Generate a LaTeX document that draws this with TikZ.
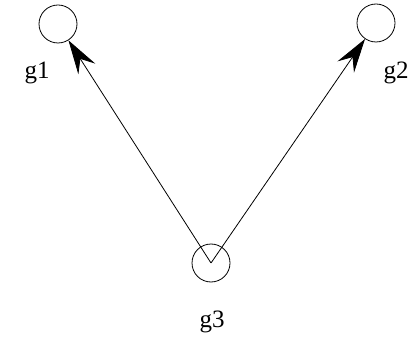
\documentclass[tikz,border=0pt]{standalone}
\usepackage{fontspec}
\setmainfont{Liberation Serif}
\usetikzlibrary{arrows.meta}
\begin{document}
\begin{tikzpicture}[x=1pt,y=-1pt,
  vertex/.style={circle,draw,minimum size=38pt,inner sep=0pt,line width=0.8pt},
  lbl/.style={font=\fontsize{25}{27}\selectfont,inner sep=0pt},
  edge/.style={line width=0.8pt,-{Stealth[length=34pt,width=20pt,inset=12pt]}}]
\useasboundingbox (0,0) rectangle (420,339);
\node[vertex] (g1) at (58,24) {};
\node[vertex] (g2) at (376,23) {};
\node[vertex] (g3) at (211,263) {};
\node[lbl] (l1) at (37,73) {g1};
\node[lbl] (l2) at (396,73) {g2};
\node[lbl] (l3) at (212,322) {g3};
\draw[edge] (g3.center) -- (g1);
\draw[edge] (g3.center) -- (g2);
\end{tikzpicture}
\end{document}
